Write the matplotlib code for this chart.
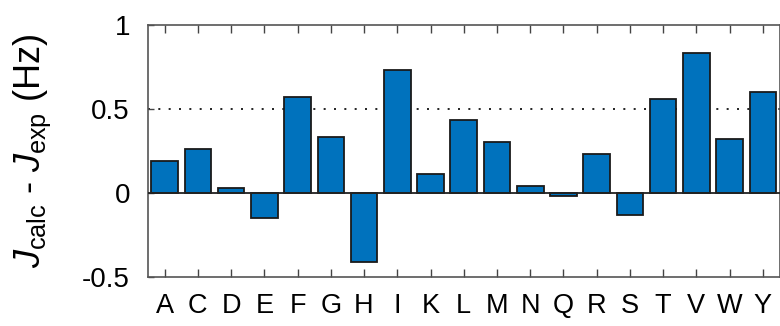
import matplotlib
matplotlib.use("Agg")
from matplotlib import pyplot as plt
import numpy as np

plt.rcParams['font.family'] = ['Liberation Sans', 'DejaVu Sans']
plt.rcParams['mathtext.fontset'] = 'custom'
plt.rcParams['mathtext.rm'] = 'Liberation Sans'
plt.rcParams['mathtext.it'] = 'Liberation Sans:italic'

residues = ['A', 'C', 'D', 'E', 'F', 'G', 'H', 'I', 'K', 'L',
            'M', 'N', 'Q', 'R', 'S', 'T', 'V', 'W', 'Y']
dJ = [0.19, 0.26, 0.03, -0.15, 0.57, 0.33, -0.41, 0.73, 0.11, 0.43,
      0.30, 0.04, -0.02, 0.23, -0.13, 0.56, 0.83, 0.32, 0.60]
yticks = [-0.5, 0, 0.5, 1]
ytick_labels = ['-0.5', '0', '0.5', '1']

fig = plt.figure(figsize=(7.8, 3.26), dpi=100)
ax = fig.add_axes([148 / 780, 1 - 276.7 / 326, 631.5 / 780, 252 / 326])

x = np.arange(1, len(residues) + 1)
ax.axhline(0.5, color='k', ls=(0, (1.2, 5)), lw=1.2, zorder=1)
ax.bar(x, dJ, width=0.8, color='#0072BD', edgecolor='#1a1a1a', lw=1.3, zorder=2)
ax.axhline(0, color='#222222', lw=1.3, zorder=3)

ax.set_xlim(0.5, 19.5)
ax.set_ylim(-0.5, 1)
ax.set_xticks(x)
ax.set_xticklabels(residues, fontsize=19.5)
ax.set_yticks(yticks)
ax.set_yticklabels(ytick_labels, fontsize=20)
ax.tick_params(axis='x', direction='in', top=True, length=6, width=1,
               color='#444444', pad=12)
ax.tick_params(axis='y', direction='in', length=4, width=1,
               color='#444444', pad=13)
for s in ax.spines.values():
    s.set_color('#555555')
    s.set_linewidth(1.2)

ax.set_ylabel(r'$J_{\rm calc}$ - $J_{\rm exp}$ (Hz)', fontsize=26)
ax.yaxis.set_label_coords(-0.15, 0.5)

fig.savefig('out.png', dpi=100)
